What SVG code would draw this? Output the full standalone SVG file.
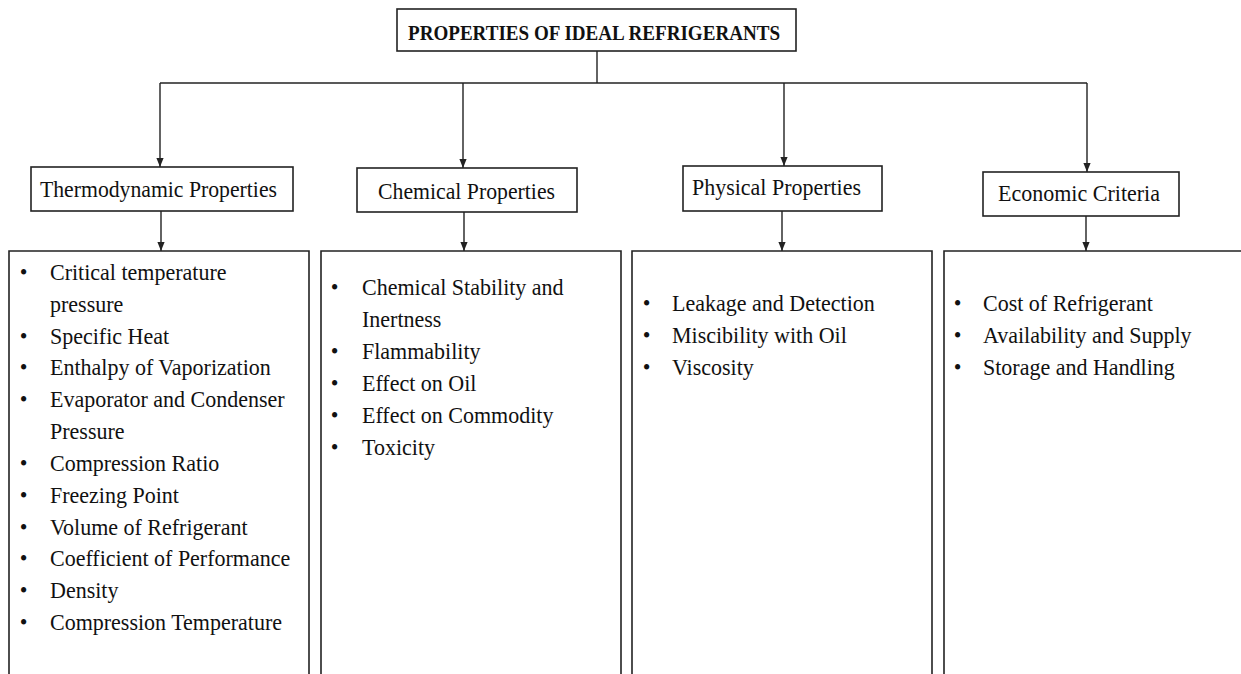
<svg xmlns="http://www.w3.org/2000/svg" width="1241" height="674" viewBox="0 0 1241 674">
<defs>
<style>
.box{fill:#fff;stroke:#222;stroke-width:1.6}
.open{fill:none;stroke:#222;stroke-width:1.6}
.conn{fill:none;stroke:#222;stroke-width:1.4}
.t{font-family:"Liberation Serif","Times New Roman",serif;font-size:24px;fill:#111}
.title{font-family:"Liberation Serif","Times New Roman",serif;font-size:22px;font-weight:bold;fill:#111}
</style>
<marker id="arr" viewBox="0 0 10 10" refX="10" refY="5" markerWidth="9" markerHeight="9" markerUnits="userSpaceOnUse" orient="auto">
<path d="M0,1 L10,5 L0,9 z" fill="#222"/>
</marker>
</defs>
<rect width="1241" height="674" fill="#fff"/>

<g id="connectors">
<path class="conn" d="M597,51 V83"/>
<path class="conn" d="M160,83 H1087"/>
<path class="conn" d="M160,83 V167" marker-end="url(#arr)"/>
<path class="conn" d="M463,83 V168" marker-end="url(#arr)"/>
<path class="conn" d="M784,83 V166" marker-end="url(#arr)"/>
<path class="conn" d="M1087,83 V172" marker-end="url(#arr)"/>
<path class="conn" d="M161,211 V251" marker-end="url(#arr)"/>
<path class="conn" d="M464,212 V251" marker-end="url(#arr)"/>
<path class="conn" d="M782,211 V251" marker-end="url(#arr)"/>
<path class="conn" d="M1086,216 V251" marker-end="url(#arr)"/>
</g>

<g id="root">
<rect class="box" x="397" y="9" width="399" height="42"/>
<text class="title" x="408" y="40" textLength="372" lengthAdjust="spacingAndGlyphs">PROPERTIES OF IDEAL REFRIGERANTS</text>
</g>

<g id="thermo">
<rect class="box" x="31" y="167" width="262" height="44"/>
<text class="t" x="40" y="197" textLength="237" lengthAdjust="spacingAndGlyphs">Thermodynamic Properties</text>
</g>
<g id="chemical">
<rect class="box" x="357" y="168" width="220" height="44"/>
<text class="t" x="378" y="199" textLength="177" lengthAdjust="spacingAndGlyphs">Chemical Properties</text>
</g>
<g id="physical">
<rect class="box" x="683" y="166" width="199" height="45"/>
<text class="t" x="692" y="195" textLength="169" lengthAdjust="spacingAndGlyphs">Physical Properties</text>
</g>
<g id="economic">
<rect class="box" x="983" y="172" width="196" height="44"/>
<text class="t" x="998" y="201" textLength="162" lengthAdjust="spacingAndGlyphs">Economic Criteria</text>
</g>

<g id="thermo-list">
<path class="open" d="M9,680 V251 H309 V680"/>
<g class="t" transform="translate(50,0) scale(0.917,1) translate(-50,0)">
<text x="17" y="280">•</text><text x="50" y="280">Critical temperature</text>
<text x="50" y="312">pressure</text>
<text x="17" y="344">•</text><text x="50" y="344">Specific Heat</text>
<text x="17" y="375">•</text><text x="50" y="375">Enthalpy of Vaporization</text>
<text x="17" y="407">•</text><text x="50" y="407">Evaporator and Condenser</text>
<text x="50" y="439">Pressure</text>
<text x="17" y="471">•</text><text x="50" y="471">Compression Ratio</text>
<text x="17" y="503">•</text><text x="50" y="503">Freezing Point</text>
<text x="17" y="535">•</text><text x="50" y="535">Volume of Refrigerant</text>
<text x="17" y="566">•</text><text x="50" y="566">Coefficient of Performance</text>
<text x="17" y="598">•</text><text x="50" y="598">Density</text>
<text x="17" y="630">•</text><text x="50" y="630">Compression Temperature</text>
</g>
</g>

<g id="chemical-list">
<path class="open" d="M321,680 V251 H621 V680"/>
<g class="t" transform="translate(362,0) scale(0.917,1) translate(-362,0)">
<text x="328" y="295">•</text><text x="362" y="295">Chemical Stability and</text>
<text x="362" y="327">Inertness</text>
<text x="328" y="359">•</text><text x="362" y="359">Flammability</text>
<text x="328" y="391">•</text><text x="362" y="391">Effect on Oil</text>
<text x="328" y="423">•</text><text x="362" y="423">Effect on Commodity</text>
<text x="328" y="455">•</text><text x="362" y="455">Toxicity</text>
</g>
</g>

<g id="physical-list">
<path class="open" d="M632,680 V251 H932 V680"/>
<g class="t" transform="translate(672,0) scale(0.917,1) translate(-672,0)">
<text x="640" y="311">•</text><text x="672" y="311">Leakage and Detection</text>
<text x="640" y="343">•</text><text x="672" y="343">Miscibility with Oil</text>
<text x="640" y="375">•</text><text x="672" y="375">Viscosity</text>
</g>
</g>

<g id="economic-list">
<path class="open" d="M944,680 V251 H1250"/>
<g class="t" transform="translate(983,0) scale(0.917,1) translate(-983,0)">
<text x="951" y="311">•</text><text x="983" y="311">Cost of Refrigerant</text>
<text x="951" y="343">•</text><text x="983" y="343">Availability and Supply</text>
<text x="951" y="375">•</text><text x="983" y="375">Storage and Handling</text>
</g>
</g>
</svg>
